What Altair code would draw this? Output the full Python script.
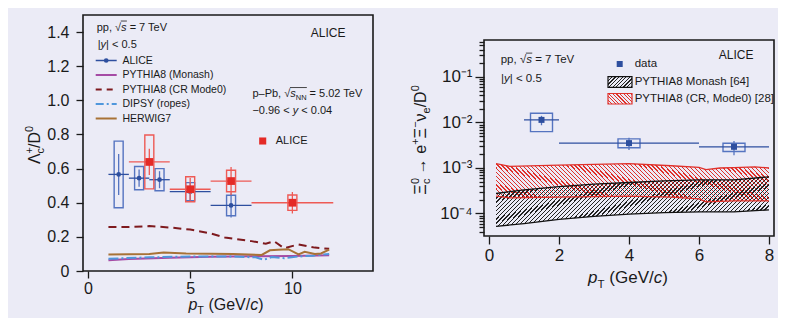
import altair as alt
import pandas as pd

# ---------------- data: left panel (Lambda_c / D0) ----------------
pp_pt = [1.5, 2.5, 3.5, 5.0, 7.0]
pp_lo = [1.0, 2.0, 3.0, 4.0, 6.0]
pp_hi = [2.0, 3.0, 4.0, 6.0, 8.0]
pp_val = [0.566, 0.544, 0.535, 0.465, 0.384]
pp_stat = [0.12, 0.05, 0.05, 0.05, 0.07]
pp_sys = [0.195, 0.068, 0.065, 0.053, 0.06]

ppb_pt = [3.0, 5.0, 7.0, 10.0]
ppb_lo = [2.0, 4.0, 6.0, 8.0]
ppb_hi = [4.0, 6.0, 8.0, 12.0]
ppb_val = [0.639, 0.479, 0.527, 0.400]
ppb_stat = [0.077, 0.066, 0.082, 0.063]
ppb_sys = [0.158, 0.073, 0.063, 0.045]

crm_pt = [1.0, 2.0, 3.0, 4.0, 5.0, 6.0, 6.7, 8.0, 8.7, 9.1, 9.6, 10.3, 11.1, 11.8]
crm_val = [0.258, 0.258, 0.263, 0.255, 0.243, 0.22, 0.196, 0.175, 0.16, 0.175, 0.133, 0.156, 0.137, 0.13]

her_pt = [1.0, 2.0, 3.0, 3.7, 4.8, 6.0, 7.1, 8.5, 8.9, 9.3, 9.8, 10.3, 10.6, 11.1, 11.4, 11.8]
her_val = [0.097, 0.098, 0.1, 0.108, 0.102, 0.101, 0.099, 0.094, 0.121, 0.125, 0.128, 0.097, 0.112, 0.1, 0.103, 0.125]

mon_pt = [1.0, 2.0, 4.0, 6.0, 8.0, 10.0, 11.8]
mon_val = [0.063, 0.07, 0.078, 0.083, 0.086, 0.088, 0.092]

dip_pt = [1.0, 3.0, 5.0, 7.0, 8.2, 8.6, 9.0, 9.6, 10.3, 11.0, 11.8]
dip_val = [0.072, 0.08, 0.085, 0.085, 0.08, 0.066, 0.082, 0.075, 0.085, 0.09, 0.1]

# ---------------- data: right panel (Xi_c0 -> e Xi nu / D0) ----------------
xi_pt = [1.5, 4.0, 7.0]
xi_lo = [1.0, 2.0, 6.0]
xi_hi = [2.0, 6.0, 8.0]
xi_val = [0.0114, 0.00352, 0.00292]
xi_stat_lo = [0.0087, 0.0025, 0.0019]
xi_stat_hi = [0.0140, 0.0046, 0.0039]
xi_sys_lo = [0.0063, 0.00278, 0.0023]
xi_sys_hi = [0.0160, 0.00437, 0.0035]

band_mon_pt = [0.2, 1.0, 2.0, 3.0, 4.0, 5.0, 6.0, 7.0, 8.0]
band_mon_hi = [2.75e-4, 3.3e-4, 3.9e-4, 4.4e-4, 4.8e-4, 5.2e-4, 5.5e-4, 5.5e-4, 6.4e-4]
band_mon_lo = [5.2e-5, 6.0e-5, 7.4e-5, 8.6e-5, 9.7e-5, 1.04e-4, 1.08e-4, 1.09e-4, 1.2e-4]

band_cr_pt = [0.2, 0.6, 2.0, 3.0, 4.0, 5.2, 6.0, 6.2, 6.6, 7.0, 7.6, 8.0]
band_cr_hi = [1.25e-3, 1.08e-3, 1.15e-3, 1.2e-3, 1.25e-3, 1.12e-3, 1.03e-3, 0.92e-3, 1.0e-3, 1.02e-3, 1.06e-3, 1.0e-3]
band_cr_lo = [2.4e-4, 2.2e-4, 2.3e-4, 2.35e-4, 2.4e-4, 2.3e-4, 2.1e-4, 1.8e-4, 1.85e-4, 1.9e-4, 1.9e-4, 1.9e-4]

left_x_ticks = [0, 5, 10]
left_y_ticks = [0, 0.2, 0.4, 0.6, 0.8, 1.0, 1.2, 1.4]
right_x_ticks = [0, 2, 4, 6, 8]
right_y_major = [1e-4, 1e-3, 1e-2, 1e-1]
right_y_minor = [m * 10.0 ** e for e in [-5, -4, -3, -2, -1] for m in [2, 3, 4, 5, 6, 7, 8, 9]
                 if 3.2e-5 <= m * 10.0 ** e <= 0.65]

# ---------------- styles ----------------
BG = "#EBEBF6"
INK = "#1a1a1a"
BLUE = "#2E4F9F"
BLUE_L = "#5574C0"
RED = "#E42A26"
RED_L = "#EE5A55"
CRD = "#7E1A1E"
MON = "#A54BA5"
DIP = "#4F97DC"
HER = "#A87236"
FR = "Liberation Sans, Arial, sans-serif"

DUMMY = pd.DataFrame({"d": [0]})

CW = {'p': .556, 'P': .667, 'b': .556, 'y': .5, '|': .26, '<': .584, '=': .584, '.': .278, ',': .278,
      'T': .611, 'e': .556, 'V': .667, 'N': .722, 's': .5, '√': .549, '–': .556, '−': .584, ' ': .278,
      'Λ': .667, 'Ξ': .667, 'D': .722, '/': .278, '+': .584, 'c': .5, 'ν': .5, '→': 1.0,
      '(': .333, ')': .333, 'G': .778}


def tw(s, fs):
    return sum(CW.get(ch, 0.556) for ch in s) * fs


def rich(segs, x, y, size, color=INK, anchor="left", angle=0):
    # seg: (text, kind, italic, advance, overline)
    pieces = []
    cur = 0.0
    for seg in segs:
        text, kind = seg[0], seg[1]
        ital = len(seg) > 2 and seg[2]
        adv = seg[3] if len(seg) > 3 else True
        ov = len(seg) > 4 and seg[4]
        fs = size if kind == "n" else size * 0.68
        lead = len(text) - len(text.lstrip(" "))
        trail = len(text) - len(text.rstrip(" "))
        core = text.strip(" ")
        shift = 0 if kind == "n" else (0.28 * size if kind == "sub" else -0.42 * size)
        pieces.append((core, fs, ital, shift, cur + tw(" " * lead, fs), ov))
        if adv:
            cur += tw(" " * lead, fs) + tw(core, fs) + tw(" " * trail, fs)
    start = -cur / 2 if anchor == "center" else 0
    layers = []
    ov_x = []
    for text, fs, ital, shift, off, ov in pieces:
        o = start + off
        if angle == 0:
            px, py = x + o, y + shift
        else:
            px, py = x + shift, y - o
        if ov:
            ov_x += [px, px + tw(text, fs)]
        mk = dict(text=text, fontSize=fs, font=FR, align="left", baseline="alphabetic", color=color)
        if ital:
            mk["fontStyle"] = "italic"
        if angle:
            mk["angle"] = angle
        layers.append(alt.Chart(DUMMY).mark_text(**mk).encode(x=alt.value(px), y=alt.value(py)))
    if ov_x:
        layers.append(alt.Chart(DUMMY).mark_rule(color=color, strokeWidth=0.8).encode(
            x=alt.value(min(ov_x) - 0.3), x2=alt.value(max(ov_x) + 0.3), y=alt.value(y - 0.86 * size)))
    return layers


def hatch(w, h, color, direction, period=4.2, lw=1.3):
    r = h / w
    L = w + h + 6
    k = L / (w * (1 + r * r))
    if direction == "fwd":
        x1, y1, x2, y2 = 0, 0, k, k * r
    else:
        x1, y1, x2, y2 = 0, 1, k, 1 - k * r
    T = "rgba(255,255,255,0)"
    stops = []
    i = 0
    while True:
        a = i * period / L
        b = (i * period + lw) / L
        if b > 1:
            break
        stops += [{"offset": a, "color": T}, {"offset": a, "color": color},
                  {"offset": b, "color": color}, {"offset": b, "color": T}]
        i += 1
    return {"gradient": "linear", "x1": x1, "y1": y1, "x2": x2, "y2": y2, "stops": stops}


def txt(s, x, y, size, align="left", baseline="middle", color=INK):
    return alt.Chart(DUMMY).mark_text(text=s, fontSize=size, font=FR, align=align,
                                      baseline=baseline, color=color).encode(x=alt.value(x), y=alt.value(y))


def invis(x, x2, y):
    return alt.Chart(DUMMY).mark_rule(color="transparent").encode(
        x=alt.value(x), x2=alt.value(x2), y=alt.value(y))


# ---------------- left panel ----------------
AXL = alt.Axis(values=left_x_ticks, title=None, tickSize=7, labelPadding=2, labelFontSize=16)
AYL = alt.Axis(values=left_y_ticks, title=None, tickSize=7, labelPadding=7, labelFontSize=16,
               labelExpr="datum.value == 0 ? '0' : format(datum.value, '.1f')")
SXL = alt.Scale(domain=[0, 13.7], nice=False, zero=False)
SYL = alt.Scale(domain=[0, 1.5], nice=False, zero=False)


def XL(f):
    return alt.X(f"{f}:Q", scale=SXL, axis=AXL)


def YL(f):
    return alt.Y(f"{f}:Q", scale=SYL, axis=AYL)


pp = pd.DataFrame({"pt": pp_pt, "lo": pp_lo, "hi": pp_hi, "val": pp_val})
pp["st_lo"] = [v - e for v, e in zip(pp_val, pp_stat)]
pp["st_hi"] = [v + e for v, e in zip(pp_val, pp_stat)]
pp["sy_lo"] = [v - e for v, e in zip(pp_val, pp_sys)]
pp["sy_hi"] = [v + e for v, e in zip(pp_val, pp_sys)]

ppb = pd.DataFrame({"pt": ppb_pt, "lo": ppb_lo, "hi": ppb_hi, "val": ppb_val})
ppb["st_lo"] = [v - e for v, e in zip(ppb_val, ppb_stat)]
ppb["st_hi"] = [v + e for v, e in zip(ppb_val, ppb_stat)]
ppb["sy_lo"] = [v - e for v, e in zip(ppb_val, ppb_sys)]
ppb["sy_hi"] = [v + e for v, e in zip(ppb_val, ppb_sys)]

crm = pd.DataFrame({"pt": crm_pt, "val": crm_val})
her = pd.DataFrame({"pt": her_pt, "val": her_val})
mon = pd.DataFrame({"pt": mon_pt, "val": mon_val})
dip = pd.DataFrame({"pt": dip_pt, "val": dip_val})

L = []
L.append(invis(-62, 292, -2))
L.append(invis(-62, 292, 299))
L.append(alt.Chart(crm).mark_line(color=CRD, strokeWidth=2, strokeDash=[8, 5]).encode(x=XL("pt"), y=YL("val")))
L.append(alt.Chart(mon).mark_line(color=MON, strokeWidth=2).encode(x=XL("pt"), y=YL("val")))
L.append(alt.Chart(dip).mark_line(color=DIP, strokeWidth=2, strokeDash=[10, 3, 2, 3]).encode(x=XL("pt"), y=YL("val")))
L.append(alt.Chart(her).mark_line(color=HER, strokeWidth=2).encode(x=XL("pt"), y=YL("val")))
for df, c, cl, msize, shape in [(pp, BLUE, BLUE_L, 22, "circle"), (ppb, RED, RED_L, 60, "square")]:
    L.append(alt.Chart(df).mark_bar(size=9, fillOpacity=0, stroke=cl, strokeWidth=1.4).encode(
        x=XL("pt"), y=YL("sy_lo"), y2="sy_hi"))
    L.append(alt.Chart(df).mark_rule(color=cl, strokeWidth=1.3).encode(x=XL("pt"), y=YL("st_lo"), y2="st_hi"))
    L.append(alt.Chart(df).mark_rule(color=c if shape == "circle" else RED_L, strokeWidth=1.3).encode(
        x=XL("lo"), x2="hi", y=YL("val")))
    L.append(alt.Chart(df).mark_point(shape=shape, filled=True, size=msize, color=c, opacity=1).encode(
        x=XL("pt"), y=YL("val")))

# left annotations
L += rich([("pp, √", "n"), ("s", "n", True, True, True), (" = 7 TeV", "n")], 13.7, 15.5, 11)
L += rich([("|", "n"), ("y", "n", True), ("| < 0.5", "n")], 14.7, 32.5, 11)
leg_rows = [45.5, 60, 74.5, 89, 103.5]
leg_names = ["ALICE", "PYTHIA8 (Monash)", "PYTHIA8 (CR Mode0)", "DIPSY (ropes)", "HERWIG7"]
leg_cols = [BLUE, MON, CRD, DIP, HER]
leg_dash = [[1, 0], [1, 0], [6, 5], [8, 3, 2, 3], [1, 0]]
for yy, nm, cc, dd in zip(leg_rows, leg_names, leg_cols, leg_dash):
    L.append(alt.Chart(DUMMY).mark_rule(color=cc, strokeWidth=2 if nm != "ALICE" else 1.3,
                                        strokeDash=dd).encode(
        x=alt.value(12.7), x2=alt.value(33.7), y=alt.value(yy)))
    L.append(txt(nm, 39.4, yy, 10.5))
L.append(alt.Chart(DUMMY).mark_point(shape="circle", filled=True, size=22, color=BLUE, opacity=1).encode(
    x=alt.value(23.2), y=alt.value(leg_rows[0])))
L.append(txt("ALICE", 227.7, 17.7, 12))
L += rich([("p–Pb, √", "n"), ("s", "n", True, True, True), ("NN", "sub", False, True, True),
           (" = 5.02 TeV", "n")], 169.4, 82, 11)
L += rich([("−0.96 < ", "n"), ("y", "n", True), (" < 0.04", "n")], 169.4, 98.5, 11)
L.append(alt.Chart(DUMMY).mark_point(shape="square", filled=True, size=50, color=RED, opacity=1).encode(
    x=alt.value(179.7), y=alt.value(126)))
L.append(txt("ALICE", 192.7, 126, 11))
# axis titles (left)
L += rich([("Λ", "n"), ("+", "sup", False, False), ("c", "sub"), ("/D", "n"), ("0", "sup")],
          -43, 130, 16, anchor="center", angle=270)
L += rich([("p", "n", True), ("T", "sub"), (" (GeV/", "n"), ("c", "n", True), (")", "n")],
          143, 295, 16, anchor="center")

left = alt.layer(*L).properties(width=290, height=256)

# ---------------- right panel ----------------
SXR = alt.Scale(domain=[0, 8], nice=False, zero=False)
SYR = alt.Scale(type="log", domain=[3.2e-5, 0.65], nice=False)
AXR = alt.Axis(values=right_x_ticks, title=None, tickSize=8, labelPadding=3, labelFontSize=17)
AYR_major = alt.Axis(values=right_y_major, title=None, tickSize=9, labelPadding=3, labelFontSize=17,
                     orient="left",
                     labelExpr="datum.value > 0.05 ? '10⁻¹' : datum.value > 0.005 ? '10⁻²' : "
                               "datum.value > 0.0005 ? '10⁻³' : '10⁻⁴'")
AYR_minor = alt.Axis(values=right_y_minor, title=None, tickSize=5, labels=False, orient="left")


def XR(f):
    return alt.X(f"{f}:Q", scale=SXR, axis=AXR)


def YR(f, ax=None):
    if ax is None:
        return alt.Y(f"{f}:Q", scale=SYR, axis=None)
    return alt.Y(f"{f}:Q", scale=SYR, axis=ax)


xi = pd.DataFrame({"pt": xi_pt, "lo": xi_lo, "hi": xi_hi, "val": xi_val,
                   "st_lo": xi_stat_lo, "st_hi": xi_stat_hi, "sy_lo": xi_sys_lo, "sy_hi": xi_sys_hi})
bm = pd.DataFrame({"pt": band_mon_pt, "hi": band_mon_hi, "lo": band_mon_lo})
bc = pd.DataFrame({"pt": band_cr_pt, "hi": band_cr_hi, "lo": band_cr_lo})

R = []
R.append(alt.Chart(xi).mark_point(opacity=0).encode(x=XR("pt"), y=YR("val", AYR_major)))
R.append(alt.Chart(xi).mark_point(opacity=0).encode(x=XR("pt"), y=YR("val", AYR_minor)))
R.append(invis(-78, 292, 100))
R.append(alt.Chart(bc).mark_area(fill=hatch(282.8, 38.3, "#E0302A", "back")).encode(
    x=XR("pt"), y=YR("hi"), y2="lo"))
R.append(alt.Chart(bm).mark_area(fill=hatch(282.8, 49.6, "#222222", "fwd")).encode(
    x=XR("pt"), y=YR("hi"), y2="lo"))
for col in ["hi", "lo"]:
    R.append(alt.Chart(bc).mark_line(color="#E0302A", strokeWidth=1.3).encode(x=XR("pt"), y=YR(col)))
    R.append(alt.Chart(bm).mark_line(color="#111111", strokeWidth=1.3).encode(x=XR("pt"), y=YR(col)))
R.append(alt.Chart(xi).mark_bar(size=22, fillOpacity=0, stroke=BLUE_L, strokeWidth=1.4).encode(
    x=XR("pt"), y=YR("sy_lo"), y2="sy_hi"))
R.append(alt.Chart(xi).mark_rule(color=BLUE_L, strokeWidth=1.3).encode(x=XR("pt"), y=YR("st_lo"), y2="st_hi"))
R.append(alt.Chart(xi).mark_rule(color=BLUE, strokeWidth=1.3).encode(x=XR("lo"), x2="hi", y=YR("val")))
R.append(alt.Chart(xi).mark_point(shape="square", filled=True, size=36, color=BLUE, opacity=1).encode(
    x=XR("pt"), y=YR("val")))

# right annotations
R += rich([("pp, √", "n"), ("s", "n", True, True, True), (" = 7 TeV", "n")], 16.7, 23, 11.5)
R += rich([("|", "n"), ("y", "n", True), ("| < 0.5", "n")], 17, 41.5, 11.5)
R.append(txt("ALICE", 234.7, 14.7, 12))
R.append(alt.Chart(DUMMY).mark_point(shape="square", filled=True, size=36, color=BLUE, opacity=1).encode(
    x=alt.value(135.7), y=alt.value(24)))
R.append(txt("data", 150.7, 24, 11.5))
R.append(alt.Chart(DUMMY).mark_rect(fill=hatch(24, 10.7, "#222222", "fwd", period=3.6, lw=1.2),
                                    stroke="#111111", strokeWidth=1.2).encode(
    x=alt.value(124), x2=alt.value(148), y=alt.value(36.7), y2=alt.value(47.4)))
R.append(txt("PYTHIA8 Monash [64]", 150.7, 41.8, 11.5))
R.append(alt.Chart(DUMMY).mark_rect(fill=hatch(24, 10.7, "#E0302A", "back", period=3.6, lw=1.2),
                                    stroke="#E0302A", strokeWidth=1.2).encode(
    x=alt.value(124), x2=alt.value(148), y=alt.value(53.5), y2=alt.value(64)))
R.append(txt("PYTHIA8 (CR, Mode0) [28]", 150.7, 58.8, 11.5))
# axis titles (right)
R += rich([("Ξ", "n"), ("0", "sup", False, False), ("c", "sub"), (" → e", "n"), ("+", "sup"), ("Ξ", "n"),
           ("−", "sup"), ("ν", "n"), ("e", "sub"), ("/D", "n"), ("0", "sup")],
          -58, 100, 16, anchor="center", angle=270)
R += rich([("p", "n", True), ("T", "sub"), (" (GeV/", "n"), ("c", "n", True), (")", "n")],
          144, 243, 17, anchor="center")

right = alt.layer(*R).resolve_axis(y="independent").properties(width=290, height=196)

spacer = alt.Chart(DUMMY).mark_rule(color="transparent").encode(
    x=alt.value(0), x2=alt.value(1), y=alt.value(0)
).properties(width=290, height=23, view=alt.ViewBackground(stroke="transparent"))

right_col = alt.vconcat(spacer, right, spacing=0)

chart = alt.hconcat(left, right_col, spacing=27).properties(
    padding={"left": 11, "top": 3, "right": 0, "bottom": 0},
    background=BG,
).configure_view(stroke=INK, strokeWidth=1.6).configure_axis(
    grid=False, domain=False, labelFont=FR, labelColor=INK, tickColor=INK, tickWidth=1.3
)

chart.save("out.html", embed_options={"renderer": "svg", "actions": False})
